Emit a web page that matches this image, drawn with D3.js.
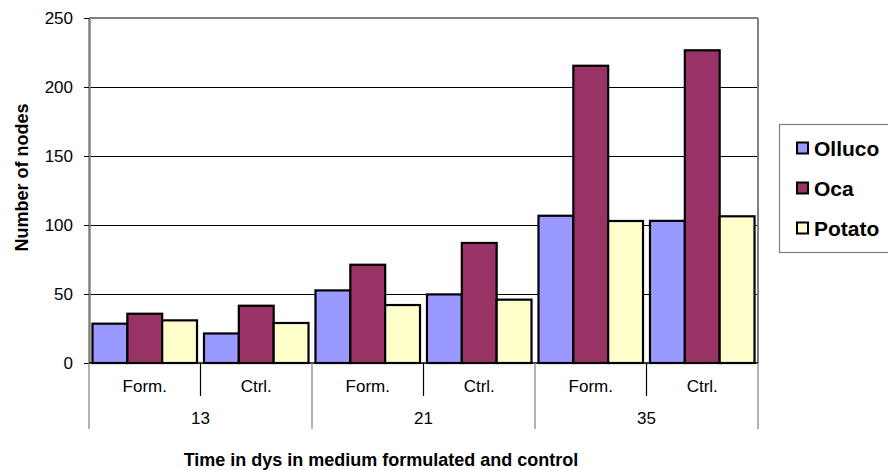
<!DOCTYPE html>
<html>
<head>
<meta charset="utf-8">
<script src="https://cdn.jsdelivr.net/npm/d3@7"></script>
<style>
  html, body { margin: 0; padding: 0; background: #fff; }
  svg { display: block; font-family: "Liberation Sans", Arial, sans-serif; }
</style>
</head>
<body>
<svg id="chart" width="888" height="470"></svg>
<script>
// ---- data ----
const subCategories = ["Form.", "Ctrl.", "Form.", "Ctrl.", "Form.", "Ctrl."];
const dayGroups = ["13", "21", "35"];
const seriesNames = ["Olluco", "Oca", "Potato"];
const olluco = [28.5, 21.4, 52.6, 49.7, 106.7, 103.0];
const oca    = [35.7, 41.5, 71.2, 87.0, 215.4, 226.6];
const potato = [30.9, 29.0, 42.0, 45.9, 102.9, 106.3];
const yTicks = [0, 50, 100, 150, 200, 250];
const yTitle = "Number of nodes";
const xTitle = "Time in dys in medium formulated and control";

const seriesValues = [olluco, oca, potato];
const colors = ["#9999FF", "#993366", "#FFFFCC"];

// ---- layout ----
const svg = d3.select("#chart");
const L = 89, R = 758, T = 18, B = 363;

const x = d3.scaleBand().domain(d3.range(subCategories.length)).range([L, R]).padding(0);
const xs = d3.scaleBand().domain(seriesNames).range([0, x.bandwidth()]).paddingInner(0).paddingOuter(0.1);
const y = d3.scaleLinear().domain([0, 250]).range([B, T]);

// gridlines
svg.append("g").selectAll("line").data(yTicks.filter(v => v > 0 && v < 250)).join("line")
  .attr("x1", L).attr("x2", R).attr("y1", d => y(d)).attr("y2", d => y(d))
  .attr("stroke", "#000").attr("stroke-width", 1).attr("shape-rendering", "crispEdges");

// plot border top/right (gray)
svg.append("line").attr("x1", L).attr("x2", R).attr("y1", y(250)).attr("y2", y(250))
  .attr("stroke", "#808080").attr("stroke-width", 2);
svg.append("line").attr("x1", R).attr("x2", R).attr("y1", T).attr("y2", B)
  .attr("stroke", "#808080").attr("stroke-width", 2);

// bars
const rows = [];
subCategories.forEach((c, i) => {
  seriesNames.forEach((s, j) => rows.push({ i, s, j, v: seriesValues[j][i] }));
});
svg.append("g").selectAll("rect").data(rows).join("rect")
  .attr("x", d => x(d.i) + xs(d.s))
  .attr("width", xs.bandwidth())
  .attr("y", d => y(d.v))
  .attr("height", d => y(0) - y(d.v))
  .attr("fill", d => colors[d.j])
  .attr("stroke", "#000").attr("stroke-width", 2.2);

// y axis
const yAxis = d3.axisLeft(y).tickValues(yTicks).tickSize(5).tickPadding(11).tickSizeOuter(0);
const gy = svg.append("g").attr("transform", `translate(${L},0)`).call(yAxis);
gy.select(".domain").attr("stroke", "#808080").attr("stroke-width", 2.5);
gy.selectAll(".tick line").attr("stroke", "#000");
gy.selectAll(".tick text").attr("font-size", 17).attr("fill", "#000")
  .attr("font-family", "Liberation Sans, Arial, sans-serif");

// x axis line
svg.append("line").attr("x1", L).attr("x2", R).attr("y1", B).attr("y2", B)
  .attr("stroke", "#000").attr("stroke-width", 1.5);

// dividers
const innerDivs = d3.range(subCategories.length + 1);
svg.append("g").selectAll("line").data(innerDivs).join("line")
  .attr("x1", i => i < subCategories.length ? x(i) : R)
  .attr("x2", i => i < subCategories.length ? x(i) : R)
  .attr("y1", B)
  .attr("y2", i => i % 2 === 0 ? 429 : 396)
  .attr("stroke", i => i % 2 === 0 ? "#808080" : "#000")
  .attr("stroke-width", 1.2);

// sub-category labels
svg.append("g").selectAll("text").data(subCategories).join("text")
  .attr("x", (d, i) => x(i) + x.bandwidth() / 2)
  .attr("y", 391.5)
  .attr("text-anchor", "middle").attr("font-size", 17).attr("fill", "#000")
  .text(d => d);

// day labels
svg.append("g").selectAll("text").data(dayGroups).join("text")
  .attr("x", (d, k) => x(2 * k) + x.bandwidth())
  .attr("y", 423.5)
  .attr("text-anchor", "middle").attr("font-size", 17).attr("fill", "#000")
  .text(d => d);

// titles
svg.append("text")
  .attr("transform", "translate(27.5,177.5) rotate(-90)")
  .attr("text-anchor", "middle").attr("font-size", 18).attr("font-weight", "bold")
  .text(yTitle);
svg.append("text")
  .attr("x", 381).attr("y", 466)
  .attr("text-anchor", "middle").attr("font-size", 18).attr("font-weight", "bold")
  .text(xTitle);

// legend
const lg = svg.append("g");
lg.append("rect").attr("x", 779.5).attr("y", 124.5).attr("width", 130).attr("height", 128)
  .attr("fill", "#fff").attr("stroke", "#808080").attr("stroke-width", 1.2);
const items = lg.selectAll("g.item").data(seriesNames).join("g").attr("class", "item")
  .attr("transform", (d, j) => `translate(797,${148 + j * 40})`);
items.append("rect").attr("x", 0).attr("y", -5.5).attr("width", 11).attr("height", 11)
  .attr("fill", (d, j) => colors[j]).attr("stroke", "#000").attr("stroke-width", 2);
items.append("text").attr("x", 17).attr("y", 7.5)
  .attr("font-size", 21).attr("font-weight", "bold").attr("fill", "#000")
  .text(d => d);
</script>
</body>
</html>
